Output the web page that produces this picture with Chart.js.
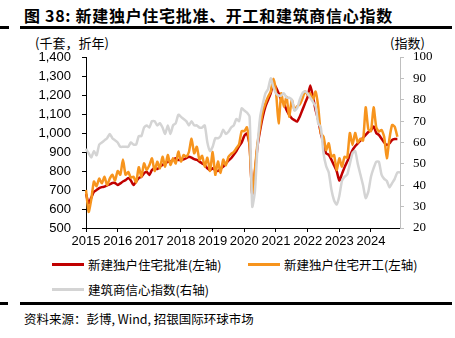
<!DOCTYPE html>
<html>
<head>
<meta charset="utf-8">
<script src="https://cdn.jsdelivr.net/npm/chart.js@4"></script>
<style>
  html, body { margin: 0; padding: 0; background: #fff; }
  #page { position: relative; width: 455px; height: 338px; overflow: hidden; font-family: "Noto Sans CJK SC", "Liberation Sans", sans-serif; color: #000; }
  #title { position: absolute; left: 24px; top: 3px; font-size: 16px; letter-spacing: 0.7px; font-weight: bold; white-space: nowrap; }
  .rule { position: absolute; height: 3px; background: #000; }
  .unit { position: absolute; top: 33px; font-size: 13px; white-space: nowrap; }
  #chartBox { position: absolute; left: 0; top: 36px; width: 455px; height: 214px; }
  .leg { position: absolute; font-size: 12.5px; white-space: nowrap; line-height: 16px; }
  .leg i { display: inline-block; width: 32px; height: 3px; vertical-align: middle; margin-right: 4px; position: relative; top: -2px; }
  #source { position: absolute; left: 24px; top: 309px; font-size: 12.5px; white-space: nowrap; }
</style>
</head>
<body>
<div id="page">
  <div id="title">图 38: 新建独户住宅批准、开工和建筑商信心指数</div>
  <div class="rule" style="left:0;width:9px;top:26px"></div>
  <div class="rule" style="left:20px;width:432px;top:26px"></div>
  <div class="unit" style="left:35px">(千套，折年)</div>
  <div class="unit" style="left:390px">(指数)</div>
  <div id="chartBox"><canvas id="chart"></canvas></div>
  <div class="leg" style="left:52px;top:257px"><i style="background:#C00000"></i>新建独户住宅批准(左轴)</div>
  <div class="leg" style="left:248px;top:257px"><i style="background:#F7941D"></i>新建独户住宅开工(左轴)</div>
  <div class="leg" style="left:52px;top:282px"><i style="background:#D4D4D4"></i>建筑商信心指数(右轴)</div>
  <div class="rule" style="left:0;width:8px;top:302px"></div>
  <div class="rule" style="left:20px;width:432px;top:302px"></div>
  <div id="source">资料来源：彭博, Wind, 招银国际环球市场</div>
</div>
<script>
// years shown on the x axis (one label each January)
const yearTicks = ['2015', '2016', '2017', '2018', '2019', '2020', '2021', '2022', '2023', '2024'];

// new single-family permits, thousands SAAR (left axis), Jan 2015 - Nov 2024
const permits = [
  680, 630, 660, 690, 700, 710, 715, 718, 725, 730, 737, 737,
  726, 735, 745, 752, 763, 750, 726, 745, 763, 770, 788, 796,
  779, 805, 814, 810, 823, 832, 840, 849, 849, 858, 867, 858,
  858, 862, 868, 875, 870, 862, 858, 849, 840, 832, 814, 805,
  814, 805, 800, 812, 823, 840, 855, 867, 885, 905, 930, 950,
  985, 998, 935, 680, 790, 930, 1016, 1086, 1139, 1174, 1209, 1260,
  1240, 1209, 1174, 1156, 1121, 1095, 1077, 1068, 1060, 1086, 1121, 1156,
  1190, 1250, 1191, 1121, 1068, 998, 946, 893, 885, 860, 830, 800,
  750, 785, 820, 850, 880, 910, 930, 945, 960, 975, 990, 1005,
  1015, 1035, 1000, 990, 970, 950, 937, 945, 963, 968, 968
];

// new single-family starts, thousands SAAR (left axis)
const starts = [
  700, 585, 650, 745, 720, 760, 735, 770, 725, 760, 780, 750,
  800, 780, 860, 780, 795, 765, 770, 740, 820, 770, 840, 805,
  830, 866, 800, 849, 814, 875, 823, 884, 832, 867, 840, 902,
  850, 884, 875, 900, 970, 893, 928, 858, 880, 823, 870, 800,
  900, 780, 850, 790, 860, 830, 875, 890, 900, 920, 940, 1010,
  1010, 1030, 930, 680, 805, 946, 1033, 1112, 1156, 1191, 1218, 1285,
  1218, 1051, 1209, 1139, 1191, 1086, 1174, 1121, 1140, 1150, 1180, 1220,
  1200, 1209, 1174, 1218, 1139, 998, 981, 910, 946, 875, 884, 805,
  867, 823, 875, 870, 1000, 937, 1000, 950, 970, 960, 1135, 1020,
  1010, 1135, 1030, 1007, 1016, 980, 867, 970, 1042, 1033, 980
];

// builder confidence index (right axis), Jan 2015 - Dec 2024
const builderIndex = [
  57, 55, 53, 56, 54, 59, 60, 61, 62, 64, 62, 61,
  60, 58, 58, 58, 58, 60, 59, 59, 63, 63, 67, 68,
  67, 70, 70, 68, 69, 67, 64, 68, 64, 68, 69, 73,
  72, 71, 70, 68, 70, 68, 68, 67, 67, 68, 60, 56,
  58, 62, 62, 63, 66, 64, 65, 67, 68, 71, 70, 76,
  75, 74, 72, 30, 37, 58, 72, 78, 83, 85, 90, 86,
  83, 82, 82, 83, 81, 81, 80, 75, 76, 80, 83, 84,
  83, 81, 79, 77, 69, 67, 55, 49, 46, 38, 33, 31,
  35, 42, 44, 45, 50, 55, 56, 50, 45, 40, 34, 37,
  44, 48, 51, 51, 45, 43, 42, 39, 41, 43, 46, 46
];

const labels = [];
yearTicks.forEach(y => {
  for (let m = 1; m <= 12; m++) labels.push(y + '-' + m);
});

const sansFont = { family: '"Liberation Sans", Arial, sans-serif', size: 13 };
const serifFont = { family: '"Liberation Serif", "DejaVu Serif", serif', size: 13 };

new Chart(document.getElementById('chart'), {
  type: 'line',
  data: {
    labels: labels,
    datasets: [
      { data: builderIndex, yAxisID: 'y2', borderColor: '#D4D4D4', borderWidth: 2.5 },
      { data: starts, yAxisID: 'y', borderColor: '#F7941D', borderWidth: 2.5 },
      { data: permits, yAxisID: 'y', borderColor: '#C00000', borderWidth: 2.5 }
    ]
  },
  options: {
    responsive: true,
    maintainAspectRatio: false,
    animation: false,
    layout: { padding: { top: 21, left: 0, right: 0, bottom: 0 } },
    elements: { point: { radius: 0 }, line: { tension: 0.2, fill: false } },
    plugins: { legend: { display: false }, tooltip: { enabled: false } },
    scales: {
      x: {
        offset: false,
        afterFit: s => { s.height = 22; },
        border: { display: true, color: '#000', width: 1 },
        grid: { drawOnChartArea: false, drawTicks: true, tickLength: 4, color: '#000' },
        ticks: {
          autoSkip: false, maxRotation: 0, padding: 2, color: '#000', font: sansFont,
          callback: (v, i) => (i % 12 === 0 ? yearTicks[i / 12] : null)
        }
      },
      y: {
        position: 'left',
        min: 500, max: 1400,
        afterFit: s => { s.width = 86; },
        border: { display: true, color: '#000', width: 1 },
        grid: { drawOnChartArea: false, drawTicks: true, tickLength: 4, color: '#000' },
        ticks: {
          stepSize: 100, padding: 11, color: '#000', font: sansFont,
          callback: v => v.toLocaleString('en-US')
        }
      },
      y2: {
        position: 'right',
        min: 20, max: 100,
        afterFit: s => { s.width = 55; },
        border: { display: true, color: '#BFBFBF', width: 1 },
        grid: { drawOnChartArea: false, drawTicks: true, tickLength: 4, color: '#BFBFBF' },
        ticks: { stepSize: 10, padding: 9, color: '#000', font: serifFont }
      }
    }
  }
});
</script>
</body>
</html>
